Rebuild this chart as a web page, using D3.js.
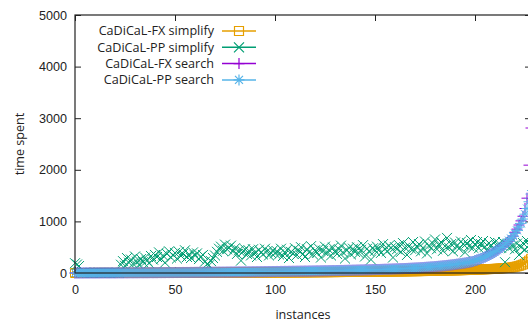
<!DOCTYPE html>
<html>
<head>
<meta charset="utf-8">
<script src="https://cdn.jsdelivr.net/npm/d3@7"></script>
<style>
  html, body { margin: 0; padding: 0; background: #fff; }
  svg { display: block; font-family: "Open Sans", "Noto Sans", sans-serif; }
</style>
</head>
<body>
<svg id="chart" width="528" height="325"></svg>
<script>
// Axis ticks
const xTicks = [0, 50, 100, 150, 200];
const yTicks = [0, 1000, 2000, 3000, 4000, 5000];

// Series names (legend order = draw order)
const seriesNames = ["CaDiCaL-FX simplify", "CaDiCaL-PP simplify", "CaDiCaL-FX search", "CaDiCaL-PP search"];
const seriesColors = ["#e69f00", "#009e73", "#9400d3", "#56b4e9"];
const seriesMarkers = ["square", "cross", "plus", "star"];

// Time spent per instance (index = instance number)
const fxSimplify = [
  0,0,0,0,0,0,0,0,1,1, 1,1,1,1,1,1,1,1,1,1, 1,1,2,2,2,2,2,2,2,2, 2,2,2,2,2,3,3,3,3,3,
  3,3,3,3,3,3,3,3,4,4, 4,4,4,4,4,4,4,4,4,5, 5,5,5,5,5,5,5,5,5,6, 6,6,6,6,6,6,6,6,7,7,
  7,7,7,7,7,7,8,8,8,8, 8,8,8,9,9,9,9,9,9,10, 10,10,10,10,11,11,11,11,11,12, 12,12,12,13,13,13,13,14,14,14,
  14,15,15,15,16,16,16,16,17,17, 17,18,18,18,19,19,19,20,20,20, 21,21,21,22,22,23,23,23,24,24,
  25,25,26,26,26,27,27,28,28,29, 29,30,30,31,31,32,32,33,34,34, 35,35,36,37,37,38,39,39,40,41,
  42,42,43,44,45,46,47,48,49,50, 51,52,53,54,55,56,58,59,60,62, 63,65,66,68,70,71,73,75,77,79,
  81,84,86,89,92,95,98,102,106,110, 120,128,138,150,165,185,210,240,275
];

const ppSimplify = [
  190,165,135,
  5,2,8,0,6,3,1,7,4,8,2,6,3,5,1,7,4,3,8,2,
  160,230,140,290,200,260,180,320,220,160,270,210,300,240,190,330,260,350,
  310,400,270,340,200,370,420,300,350,390,280,410,330,370,440,310,360,290,400,340,380,270,320,350,
  220,170,150,230,290,340,410,
  470,510,430,550,460,490,530,420,480,370,440,240,410,460,
  370,430,340,460,390,310,450,400,360,470,420,340,390,440,380,
  420,360,470,330,400,450,290,410,380,480,
  350,430,500,370,310,460,400,520,360,440,
  390,470,300,430,510,380,450,340,490,420,
  370,460,530,400,280,440,490,360,470,410,
  500,380,450,540,320,470,420,260,480,430,
  510,450,390,560,470,420,530,480,300,500,
  460,540,410,580,490,350,520,470,600,440,
  510,560,420,490,610,380,530,480,570,650,
  460,540,600,430,520,680,490,560,420,590,
  530,470,610,560,400,580,520,640,490,550,
  600,480,560,620,510,430,580,540,470,600,
  520,570,490,600,210,550,480,590,530,460,
  570,350,500,580,450,620,540,500
];

const fxSearch = [
  0,0,0,1,0,1,1,1,2,1, 1,2,1,2,2,3,2,2,3,3, 2,3,4,3,3,4,3,4,5,4, 5,4,5,6,5,6,5,6,7,6,
  7,6,8,7,8,7,9,8,9,8, 10,9,10,9,11,10,11,10,12,11, 12,13,12,13,14,13,14,15,14,15,
  16,15,17,16,17,16,18,17,19,18, 20,19,21,20,21,22,21,23,22,24, 23,25,24,26,25,27,26,28,27,29,
  28,30,29,31,30,32,31,33,32,34, 33,35,34,36,35,37,36,38,37,39, 39,41,40,42,42,44,43,45,45,47,
  46,48,48,50,49,51,51,53,53,55, 55,57,57,59,59,61,61,63,63,66,
  66,68,68,70,71,73,73,75,76,78, 79,81,82,84,85,87,88,90,92,94, 96,98,100,103,105,
  108,111,113,117,119,123,126,130,133,138, 141,146,150,155,159,165,170,176,181,188, 193,200,207,215,222,
  238,250,262,278,293,310,329,347,368,389, 412,437,463,491,521,
  553,588,625,668,714,790,850,930,1010,1100, 1250,1450,2090,2810
];

const ppSearch = [
  0,0,0,0,1,1,1,1,1,1, 1,1,2,2,2,2,2,2,2,3, 3,3,3,3,3,4,4,4,4,4, 4,5,5,5,5,5,6,6,6,6,
  6,7,7,7,7,8,8,8,8,9, 9,9,9,10,10,10,10,11,11,11, 12,12,12,13,13,13,14,14,14,15,
  15,15,16,16,16,17,17,18,18,18, 19,19,20,20,20,21,21,22,22,23, 23,24,24,25,25,26,26,27,27,28,
  28,29,29,30,30,31,31,32,32,33, 34,34,35,35,36,37,37,38,39,39, 40,41,41,42,43,43,44,45,46,46,
  47,48,49,49,50,51,52,53,53,54, 55,56,57,58,59,60,61,62,63,64,
  65,66,67,68,70,71,72,74,75,77, 78,80,81,83,85,87,89,91,93,95, 97,99,101,104,107,
  110,113,116,119,122,125,129,132,136,140, 144,148,152,157,162,167,172,177,183,189, 195,202,209,216,224,
  240,252,265,280,296,313,331,350,370,392, 415,440,466,494,524,
  556,590,628,670,716,768,826,890,962,1045, 1140,1250,1380,1530
];

const seriesData = [fxSimplify, ppSimplify, fxSearch, ppSearch];

// Plot frame
const svg = d3.select("#chart");
const plot = { left: 75, right: 531, top: 15, bottom: 273 };
const x = d3.scaleLinear().domain([0, 228]).range([plot.left, plot.right]);
const y = d3.scaleLinear().domain([0, 5000]).range([plot.bottom, plot.top]);
const fontSize = 12.6;

// Marker shapes, centred on the point
const markerPath = {
  square: "M-4.5,-4.5h9v9h-9z",
  cross: "M-5,-5L5,5M-5,5L5,-5",
  plus: "M-5.5,0H5.5M0,-5.5V5.5",
  star: "M-5.5,0H5.5M0,-5.5V5.5M-4,-4L4,4M-4,4L4,-4"
};

// Axes with inward ticks, mirrored on top and right
const tickLen = 6;
const axisG = svg.append("g").attr("class", "axes");

const xAxis = d3.axisBottom(x).tickValues(xTicks).tickSizeInner(-tickLen).tickSizeOuter(0)
  .tickPadding(12).tickFormat(d3.format("d"));
const gx = axisG.append("g").attr("transform", `translate(0,${plot.bottom})`).call(xAxis);
gx.select(".domain").remove();
gx.selectAll("text").attr("font-size", fontSize).attr("fill", "#222").attr("font-family", null);

const xAxisTop = d3.axisTop(x).tickValues(xTicks).tickSizeInner(-tickLen).tickSizeOuter(0).tickFormat("");
const gxt = axisG.append("g").attr("transform", `translate(0,${plot.top})`).call(xAxisTop);
gxt.select(".domain").remove();

const yAxis = d3.axisLeft(y).tickValues(yTicks).tickSizeInner(-tickLen).tickSizeOuter(0)
  .tickPadding(8).tickFormat(d3.format("d"));
const gy = axisG.append("g").attr("transform", `translate(${plot.left},0)`).call(yAxis);
gy.select(".domain").remove();
gy.selectAll("text").attr("font-size", fontSize).attr("fill", "#222").attr("font-family", null);

const yAxisRight = d3.axisRight(y).tickValues(yTicks).tickSizeInner(-tickLen).tickSizeOuter(0).tickFormat("");
const gyr = axisG.append("g").attr("transform", `translate(${plot.right},0)`).call(yAxisRight);
gyr.select(".domain").remove();

axisG.selectAll(".tick line").attr("stroke", "#222").attr("stroke-width", 1);

// Data points
const pointsG = svg.append("g").attr("class", "points");
seriesData.forEach((values, s) => {
  pointsG.append("g")
    .attr("fill", "none")
    .attr("stroke", seriesColors[s])
    .attr("stroke-width", 1)
    .selectAll("path")
    .data(values)
    .join("path")
    .attr("transform", (d, i) => `translate(${x(i)},${y(d)})`)
    .attr("d", markerPath[seriesMarkers[s]]);
});

// Border on top of the points
svg.append("rect")
  .attr("x", plot.left).attr("y", plot.top)
  .attr("width", plot.right - plot.left).attr("height", plot.bottom - plot.top)
  .attr("fill", "none").attr("stroke", "#222").attr("stroke-width", 1.2);

// Axis titles
svg.append("text")
  .attr("x", (plot.left + plot.right) / 2).attr("y", 315)
  .attr("text-anchor", "middle").attr("dy", "0.35em")
  .attr("font-size", fontSize).attr("fill", "#222")
  .text("instances");

svg.append("text")
  .attr("transform", `translate(20,${(plot.top + plot.bottom) / 2}) rotate(-90)`)
  .attr("text-anchor", "middle").attr("dy", "0.35em")
  .attr("font-size", fontSize).attr("fill", "#222")
  .text("time spent");

// Legend
const legend = svg.append("g").attr("class", "legend");
seriesNames.forEach((name, s) => {
  const cy = 31 + s * 16.3;
  const row = legend.append("g");
  row.append("text")
    .attr("x", 214).attr("y", cy).attr("dy", "0.35em")
    .attr("text-anchor", "end").attr("font-size", fontSize).attr("fill", "#222")
    .text(name);
  row.append("line")
    .attr("x1", 222).attr("x2", 256).attr("y1", cy).attr("y2", cy)
    .attr("stroke", seriesColors[s]).attr("stroke-width", 1.5);
  row.append("path")
    .attr("transform", `translate(239,${cy})`)
    .attr("d", markerPath[seriesMarkers[s]])
    .attr("fill", "none").attr("stroke", seriesColors[s]).attr("stroke-width", 1.2);
});
</script>
</body>
</html>
